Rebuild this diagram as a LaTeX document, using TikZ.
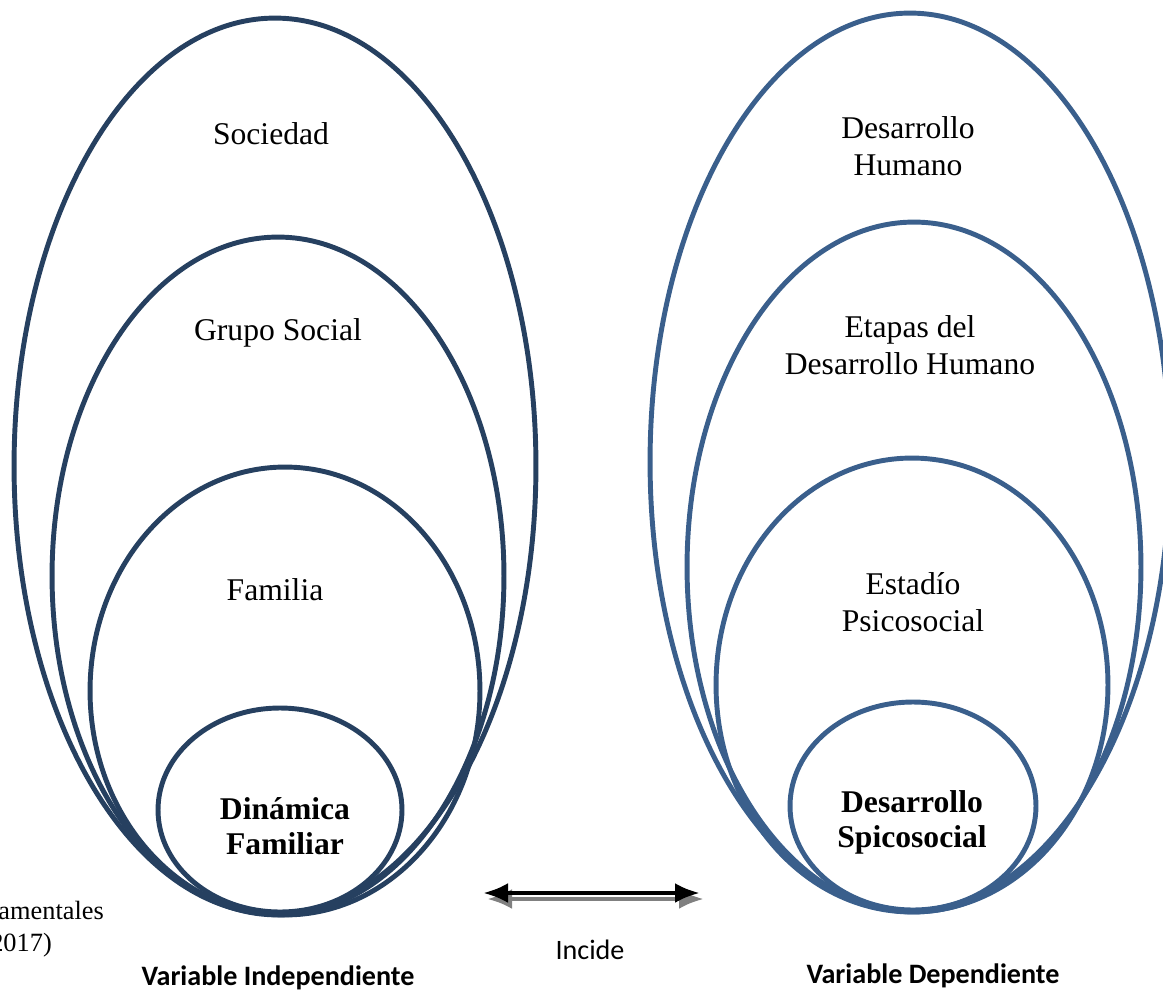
\documentclass[tikz,border=0pt]{standalone}
\usepackage{fontspec}
\setmainfont{Liberation Serif}
\newfontfamily\calibri{Carlito}
\usepackage{tikz}
\usetikzlibrary{arrows.meta, shapes.geometric}
\definecolor{navyleft}{RGB}{38,64,96}
\definecolor{blueright}{RGB}{58,95,140}
\definecolor{shadowgray}{RGB}{128,128,128}

\begin{document}
\begin{tikzpicture}[x=0.02cm, y=-0.02cm,
    every node/.style={font=\fontsize{18}{21}\selectfont, align=center},
    capa/.style={ellipse, draw, line width=2.8pt, inner sep=0pt},
    pie/.style={font=\calibri\fontsize{16}{19}\selectfont}]
            \useasboundingbox (0,0) rectangle (1163,993);
            % variable independiente
            \node[capa, draw=navyleft, minimum width=10.44cm, minimum height=17.92cm] (soc) at (275,466) {};
            \node[capa, draw=navyleft, minimum width=9.04cm, minimum height=13.56cm] (grupo) at (278,576) {};
            \node[capa, draw=navyleft, minimum width=7.8cm, minimum height=8.96cm] (fam) at (285,691) {};
            \node[capa, draw=navyleft, minimum width=4.88cm, minimum height=4.08cm] (din) at (280,810) {};
            \node (socT) at (271,134) {Sociedad};
            \node (grupoT) at (278,333) {Grupo Social};
            \node (famT) at (275,590) {Familia};
            \node[font=\fontsize{18}{20}\selectfont\bfseries] (dinT) at (285,826) {Dinámica\\Familiar};
            % variable dependiente
            \node[capa, draw=blueright, minimum width=10.4cm, minimum height=17.96cm] (dh) at (910,462) {};
            \node[capa, draw=blueright, minimum width=9.08cm, minimum height=13.8cm] (etapas) at (914,567) {};
            \node[capa, draw=blueright, minimum width=7.84cm, minimum height=9.08cm] (estadio) at (912,685) {};
            \node[capa, draw=blueright, minimum width=4.92cm, minimum height=4.16cm] (dps) at (913,806) {};
            \node (dhT) at (908,146) {Desarrollo\\Humano};
            \node (etapasT) at (910,345) {Etapas del\\Desarrollo Humano};
            \node (estadioT) at (913,602) {Estadío\\Psicosocial};
            \node[font=\fontsize{18}{20}\selectfont\bfseries] (dpsT) at (912,822) {Desarrollo\\Spicosocial};
            % relacion
            \coordinate (izq) at (483,893);
            \coordinate (der) at (700,893);
            \draw[shadowgray, line width=2.6pt, {Latex[length=5mm,width=4mm]}-{Latex[length=5mm,width=4mm]}] ([shift={(4,6)}]izq) -- ([shift={(4,6)}]der);
            \draw[black, line width=2.6pt, {Latex[length=5mm,width=4mm]}-{Latex[length=5mm,width=4mm]}] (izq) -- (der);
            \node[pie] (incide) at (590,950) {Incide};
            \node[pie, font=\calibri\fontsize{16}{19}\selectfont\bfseries] (vi) at (278,978) {Variable Independiente};
            \node[pie, font=\calibri\fontsize{16}{19}\selectfont\bfseries] (vd) at (933,976) {Variable Dependiente};
            % fuente, cortada en el borde
            \node[anchor=east, font=\fontsize{15}{18}\selectfont] (fuenteA) at (110,910) {amentales};
            \node[anchor=east, font=\fontsize{15}{18}\selectfont] (fuenteB) at (58,945) {2017)};
        \end{tikzpicture}
\end{document}
